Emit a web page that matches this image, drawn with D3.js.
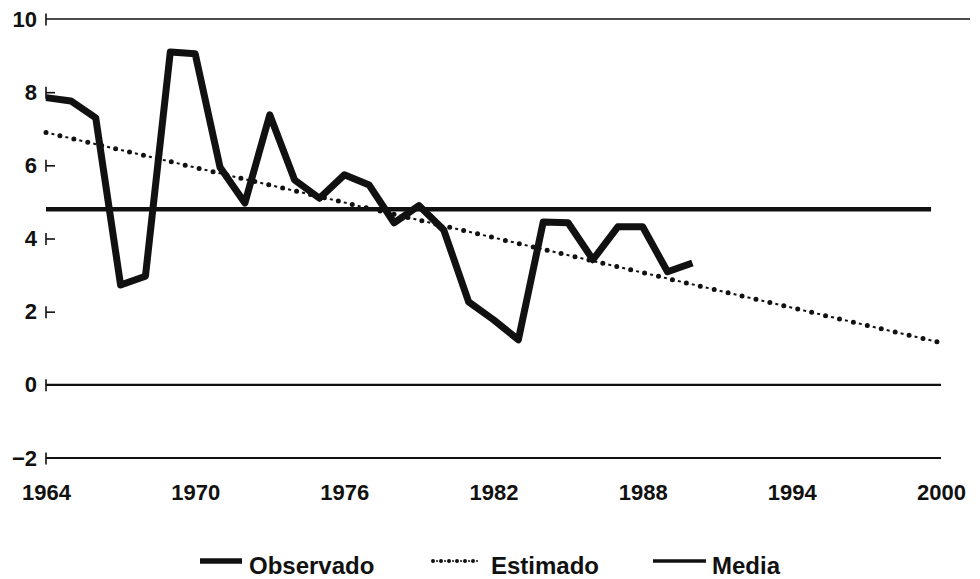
<!DOCTYPE html>
<html>
<head>
<meta charset="utf-8">
<script src="https://cdn.jsdelivr.net/npm/d3@7"></script>
<style>
  body { margin: 0; background: #fff; }
  svg { display: block; }
  text { font-family: "Liberation Sans", Arial, sans-serif; font-weight: bold; fill: #111; }
</style>
</head>
<body>
<div id="chart"></div>
<script>
// observed series, one value per year
var years = [1964, 1965, 1966, 1967, 1968, 1969, 1970, 1971, 1972, 1973, 1974, 1975, 1976,
             1977, 1978, 1979, 1980, 1981, 1982, 1983, 1984, 1985, 1986, 1987, 1988, 1989, 1990];
var observado = [7.85, 7.76, 7.3, 2.73, 2.97, 9.1, 9.05, 5.95, 4.97, 7.38, 5.6, 5.1, 5.74,
                 5.46, 4.43, 4.9, 4.23, 2.27, 1.78, 1.23, 4.45, 4.43, 3.42, 4.32, 4.32, 3.09, 3.33];
// fitted trend, end points
var estimadoYears = [1964, 2000];
var estimado = [6.9, 1.15];
var media = 4.8;
var xTicks = [1964, 1970, 1976, 1982, 1988, 1994, 2000];
var yTicks = [10, 8, 6, 4, 2, 0, -2];
var gridValues = [10, 0, -2];
var legendLabels = ["Observado", "Estimado", "Media"];

var width = 980, height = 579;
var svg = d3.select("#chart").append("svg").attr("width", width).attr("height", height);

var x = d3.scaleLinear().domain([1964, 2000]).range([46, 941]);
var y = d3.scaleLinear().domain([-2, 10]).range([458, 19]);

// horizontal reference lines at 10, 0, -2
gridValues.forEach(function(v) {
    svg.append("line")
        .attr("x1", x(1964)).attr("x2", v === 10 ? 970 : x(2000))
        .attr("y1", y(v)).attr("y2", y(v))
        .attr("stroke", "#111")
        .attr("stroke-width", v === 10 ? 1.6 : 2.2);
});

// y axis, no domain line, little "|-" ticks
var yAxis = d3.axisLeft(y).tickValues(yTicks).tickSize(0).tickPadding(9);
var gy = svg.append("g").attr("transform", "translate(" + x(1964) + ",0)").call(yAxis);
gy.select(".domain").remove();
gy.selectAll(".tick text")
    .style("font-size", "22px")
    .style("font-family", "'Liberation Sans', Arial, sans-serif")
    .style("font-weight", "bold")
    .attr("fill", "#111");
gy.selectAll(".tick").append("line")
    .attr("x1", 0).attr("x2", 0).attr("y1", -6).attr("y2", 6)
    .attr("stroke", "#111").attr("stroke-width", 1.6);
gy.selectAll(".tick").filter(function(d) { return gridValues.indexOf(d) < 0; })
    .append("line")
    .attr("x1", 0).attr("x2", 9).attr("y1", 0).attr("y2", 0)
    .attr("stroke", "#111").attr("stroke-width", 1.6);

// x axis labels only
var xAxis = d3.axisBottom(x).tickValues(xTicks).tickFormat(d3.format("d")).tickSize(0).tickPadding(0);
var gx = svg.append("g").attr("transform", "translate(0,458)").call(xAxis);
gx.select(".domain").remove();
gx.selectAll(".tick text")
    .attr("dy", null)
    .attr("y", 42)
    .style("font-size", "22px")
    .style("font-family", "'Liberation Sans', Arial, sans-serif")
    .style("font-weight", "bold")
    .attr("fill", "#111");

// media line
svg.append("line")
    .attr("x1", x(1964)).attr("x2", x(1999.6))
    .attr("y1", y(media)).attr("y2", y(media))
    .attr("stroke", "#111").attr("stroke-width", 4.5);

// estimated trend, dots and short dashes
var estPts = estimadoYears.map(function(d, i) { return [d, estimado[i]]; });
var estLine = d3.line().x(function(d) { return x(d[0]); }).y(function(d) { return y(d[1]); });
svg.append("path").attr("d", estLine(estPts))
    .attr("fill", "none").attr("stroke", "#111").attr("stroke-width", 5)
    .attr("stroke-linecap", "round").attr("stroke-dasharray", "0 14.3");
svg.append("path").attr("d", estLine(estPts))
    .attr("fill", "none").attr("stroke", "#111").attr("stroke-width", 2)
    .attr("stroke-dasharray", "3 11.3").attr("stroke-dashoffset", -5.6);

// observed series
var obsLine = d3.line()
    .x(function(d, i) { return x(years[i]); })
    .y(function(d) { return y(d); });
svg.append("path").datum(observado).attr("d", obsLine)
    .attr("fill", "none").attr("stroke", "#111").attr("stroke-width", 7)
    .attr("stroke-linejoin", "round");

// legend
var legend = svg.append("g");
var lg = [
    { label: legendLabels[0], x1: 200, x2: 242, tx: 249, kind: "obs" },
    { label: legendLabels[1], x1: 433, x2: 478, tx: 491, kind: "est" },
    { label: legendLabels[2], x1: 653, x2: 706, tx: 712, kind: "media" }
];
lg.forEach(function(d) {
    var ly = 561;
    if (d.kind === "est") {
        legend.append("line").attr("x1", d.x1).attr("x2", d.x2).attr("y1", ly).attr("y2", ly)
            .attr("stroke", "#111").attr("stroke-width", 4).attr("stroke-linecap", "round")
            .attr("stroke-dasharray", "0 8");
        legend.append("line").attr("x1", d.x1).attr("x2", d.x2).attr("y1", ly).attr("y2", ly)
            .attr("stroke", "#111").attr("stroke-width", 1.5).attr("stroke-dasharray", "2 6")
            .attr("stroke-dashoffset", -3);
    } else {
        legend.append("line").attr("x1", d.x1).attr("x2", d.x2).attr("y1", ly).attr("y2", ly)
            .attr("stroke", "#111").attr("stroke-width", d.kind === "obs" ? 5.5 : 3.5);
    }
    legend.append("text").attr("x", d.tx).attr("y", 574)
        .style("font-size", "24px").text(d.label);
});
</script>
</body>
</html>
